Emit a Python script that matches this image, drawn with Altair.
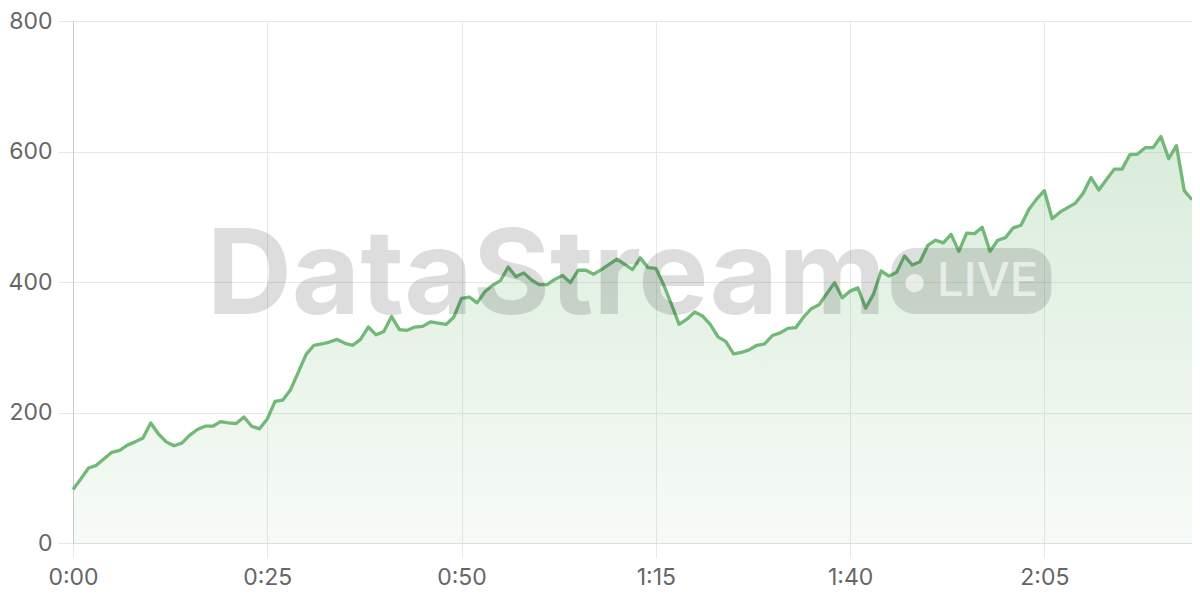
import altair as alt
import pandas as pd

# minutes since start
minutes = list(range(0, 145))
values = [
    82, 98, 115, 119, 129, 139, 142, 150, 155, 161,
    184, 167, 155, 149, 153, 165, 174, 179, 179, 186,
    184, 183, 193, 179, 175, 190, 217, 219, 235, 262,
    289, 303, 305, 308, 312, 306, 303, 312, 331, 319,
    324, 347, 327, 326, 331, 332, 339, 337, 335, 346,
    375, 377, 368, 385, 395, 402, 423, 408, 414, 403,
    396, 396, 404, 410, 399, 418, 418, 412, 419, 427,
    435, 427, 419, 437, 422, 421, 396, 366, 335, 343,
    354, 348, 335, 316, 309, 290, 292, 296, 303, 305,
    318, 322, 329, 330, 346, 359, 365, 382, 399, 376,
    386, 391, 360, 381, 417, 409, 415, 440, 426, 431,
    456, 464, 460, 473, 447, 475, 474, 484, 447, 464,
    468, 483, 487, 511, 527, 540, 497, 507, 514, 521,
    536, 560, 541, 557, 573, 573, 595, 596, 606, 606,
    623, 589, 609, 540, 526,
]

x_ticks = [0, 25, 50, 75, 100, 125]
x_labels = ["0:00", "0:25", "0:50", "1:15", "1:40", "2:05"]
y_ticks = [0, 200, 400, 600, 800]

# watermark (placed in data coordinates)
wm_text = ["DataStream"]
wm_x = [17.2]
wm_y = [351]
badge_x = [105.3]
badge_x2 = [125.9]
badge_y = [351]
badge_y2 = [452]
dot_x = [108.3]
dot_y = [398.5]
live_text = ["LIVE"]
live_x = [111.2]
live_y = [378.7]

df = pd.DataFrame({"t": minutes, "v": values})

label_expr = ""
for tv, tl in zip(x_ticks, x_labels):
    label_expr += f"datum.value == {tv} ? '{tl}' : "
label_expr += "''"

FONT = "Inter"
GREEN = "#72b876"

xscale = alt.Scale(domain=[0, 144], nice=False, zero=False)
yscale = alt.Scale(domain=[0, 800], nice=False)

xaxis = alt.Axis(values=x_ticks, labelExpr=label_expr, title=None, grid=True,
                 gridColor="#e8e8e8", tickColor="#e8e8e8", tickSize=15,
                 domainColor="#dcdcdc", labelColor="#666666", labelFontSize=23,
                 labelFont=FONT, labelPadding=8, labelFlush=False)
yaxis = alt.Axis(values=y_ticks, title=None, grid=True, gridColor="#e8e8e8",
                 tickColor="#e8e8e8", tickSize=15, domainColor="#cccccc",
                 labelColor="#666666", labelFontSize=23, labelFont=FONT,
                 labelPadding=6, labelFlush=False)

base = alt.Chart(df)

area = base.mark_area(
    color=alt.Gradient(
        gradient="linear",
        stops=[alt.GradientStop(color="rgba(114,184,118,0.27)", offset=0),
               alt.GradientStop(color="rgba(114,184,118,0.06)", offset=1)],
        x1=1, x2=1, y1=0, y2=1,
    )
).encode(
    x=alt.X("t:Q", scale=xscale, axis=xaxis),
    y=alt.Y("v:Q", scale=yscale, axis=yaxis),
)

line = base.mark_line(color=GREEN, strokeWidth=3.3, strokeJoin="round").encode(
    x=alt.X("t:Q", scale=xscale),
    y=alt.Y("v:Q", scale=yscale),
)

wm_df = pd.DataFrame({"x": wm_x, "y": wm_y, "text": wm_text})
wm = alt.Chart(wm_df).mark_text(
    align="left", baseline="alphabetic", font=FONT, fontSize=118,
    fontWeight="bold", color="#000000", opacity=0.13,
).encode(
    x=alt.X("x:Q", scale=xscale), y=alt.Y("y:Q", scale=yscale), text="text:N"
)

badge_df = pd.DataFrame({"x": badge_x, "x2": badge_x2, "y": badge_y, "y2": badge_y2})
badge = alt.Chart(badge_df).mark_rect(
    color="#000000", opacity=0.13, cornerRadius=24
).encode(
    x=alt.X("x:Q", scale=xscale), x2="x2:Q",
    y=alt.Y("y:Q", scale=yscale), y2="y2:Q",
)

dot_df = pd.DataFrame({"x": dot_x, "y": dot_y})
dot = alt.Chart(dot_df).mark_point(
    filled=True, shape="circle", size=340, color="#ffffff", opacity=0.6
).encode(x=alt.X("x:Q", scale=xscale), y=alt.Y("y:Q", scale=yscale))

live_df = pd.DataFrame({"x": live_x, "y": live_y, "text": live_text})
live = alt.Chart(live_df).mark_text(
    align="left", baseline="alphabetic", font=FONT, fontSize=47,
    fontWeight=500, color="#ffffff", opacity=0.6,
).encode(
    x=alt.X("x:Q", scale=xscale), y=alt.Y("y:Q", scale=yscale), text="text:N"
)

chart = alt.layer(area, line, wm, badge, dot, live).properties(
    width=1119, height=522,
    autosize=alt.AutoSizeParams(type="none"),
    padding={"left": 65, "top": 13, "right": 0, "bottom": 48},
).configure_view(stroke=None).configure(background="white")

chart.save("out.html", embed_options={"renderer": "svg", "actions": False})
